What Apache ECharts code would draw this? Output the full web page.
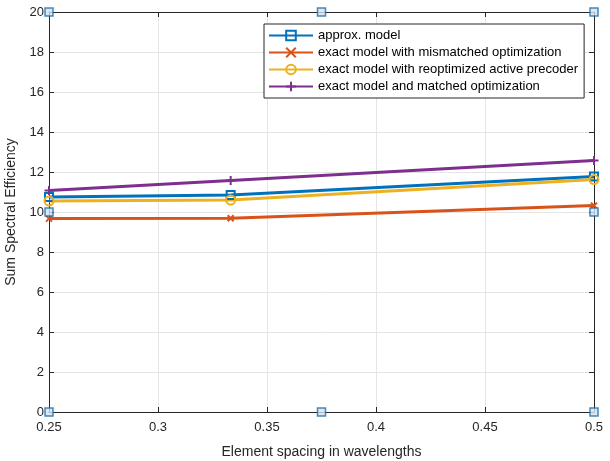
<!DOCTYPE html>
<html><head><meta charset="utf-8">
<script src="https://cdn.jsdelivr.net/npm/echarts@6/dist/echarts.min.js"></script>
<style>html,body{margin:0;padding:0;background:#fff}#c{width:610px;height:461px}</style>
</head><body><div id="c"></div>
<script>
var spacing = [0.25, 1/3, 0.5];
var approxModel = [10.75, 10.85, 11.77];
var exactMismatched = [9.67, 9.69, 10.32];
var exactReoptimized = [10.55, 10.6, 11.62];
var exactMatched = [11.08, 11.57, 12.58];
var seriesNames = ['approx. model','exact model with mismatched optimization','exact model with reoptimized active precoder','exact model and matched optimization'];
var handleX = [0.25, 0.375, 0.5, 0.25, 0.5, 0.25, 0.375, 0.5];
var handleY = [20, 20, 20, 10, 10, 0, 0, 0];

var font = 'Liberation Sans, Arial, sans-serif';
var axisCol = '#262626';
function pairs(xs, ys){ return xs.map(function(x,i){return [x, ys[i]];}); }
var xPath = 'path://M0,0L10,10M10,0L0,10';
var plusPath = 'path://M5,0L5,10M0,5L10,5';

function lineSeries(name, data, color, symbol, size, empty){
  return {
    name: name, type: 'line', data: pairs(spacing, data),
    symbol: symbol, symbolSize: size, showSymbol: true,
    lineStyle: {color: color, width: 3},
    itemStyle: {color: empty ? 'rgba(255,255,255,0)' : color, borderColor: color, borderWidth: 2},
    emphasis: {disabled: true}, z: 3
  };
}
var chart = echarts.init(document.getElementById('c'), null, {renderer:'canvas'});
chart.setOption({
  animation: false,
  backgroundColor: '#fff',
  grid: {left: 49, right: 16, top: 12, bottom: 49, containLabel: false, outerBoundsMode: 'none'},
  legend: {
    orient: 'vertical', left: 264, top: 24,
    data: seriesNames,
    backgroundColor: '#fff', borderColor: '#262626', borderWidth: 1,
    padding: [5, 6, 5, 4], itemGap: 4, itemWidth: 44, itemHeight: 12,
    textStyle: {fontFamily: font, fontSize: 13, color: '#000'}
  },
  xAxis: [{
    type: 'value', min: 0.25, max: 0.5, interval: 0.05,
    name: 'Element spacing in wavelengths', nameLocation: 'middle', nameGap: 33,
    nameTextStyle: {fontFamily: font, fontSize: 14, color: axisCol},
    axisLine: {onZero: false, lineStyle: {color: axisCol, width: 1}},
    axisTick: {inside: true, length: 5, lineStyle: {color: axisCol}},
    axisLabel: {fontFamily: font, fontSize: 13, color: axisCol, margin: 9,
      formatter: function(v){ return String(parseFloat(v.toFixed(2))); }},
    splitLine: {show: true, lineStyle: {color: '#e5e5e5', width: 1}}
  },{
    type: 'value', position: 'top', min: 0.25, max: 0.5, interval: 0.05,
    axisLine: {onZero: false, lineStyle: {color: axisCol}},
    axisTick: {inside: true, length: 5, lineStyle: {color: axisCol}},
    axisLabel: {show: false}, splitLine: {show: false}
  }],
  yAxis: [{
    type: 'value', min: 0, max: 20, interval: 2,
    name: 'Sum Spectral Efficiency', nameLocation: 'middle', nameGap: 25,
    nameTextStyle: {fontFamily: font, fontSize: 14, color: axisCol},
    axisLine: {show: true, onZero: false, lineStyle: {color: axisCol, width: 1}},
    axisTick: {show: true, inside: true, length: 5, lineStyle: {color: axisCol}},
    axisLabel: {fontFamily: font, fontSize: 13, color: axisCol, margin: 5},
    splitLine: {show: true, lineStyle: {color: '#e5e5e5', width: 1}}
  },{
    type: 'value', position: 'right', min: 0, max: 20, interval: 2,
    axisLine: {show: true, onZero: false, lineStyle: {color: axisCol}},
    axisTick: {show: true, inside: true, length: 5, lineStyle: {color: axisCol}},
    axisLabel: {show: false}, splitLine: {show: false}
  }],
  series: [
    lineSeries(seriesNames[0], approxModel, '#0072BD', 'rect', 8, true),
    lineSeries(seriesNames[1], exactMismatched, '#D95319', xPath, 6, false),
    lineSeries(seriesNames[2], exactReoptimized, '#EDB120', 'circle', 9, true),
    lineSeries(seriesNames[3], exactMatched, '#7E2F8E', plusPath, 9, false),
    {
      name: 'handles', type: 'scatter', data: pairs(handleX, handleY),
      symbol: 'rect', symbolSize: 8, clip: false,
      itemStyle: {color: '#cde4f6', borderColor: '#1f6aa5', borderWidth: 1.5},
      emphasis: {disabled: true}, z: 10
    }
  ]
});
</script></body></html>
